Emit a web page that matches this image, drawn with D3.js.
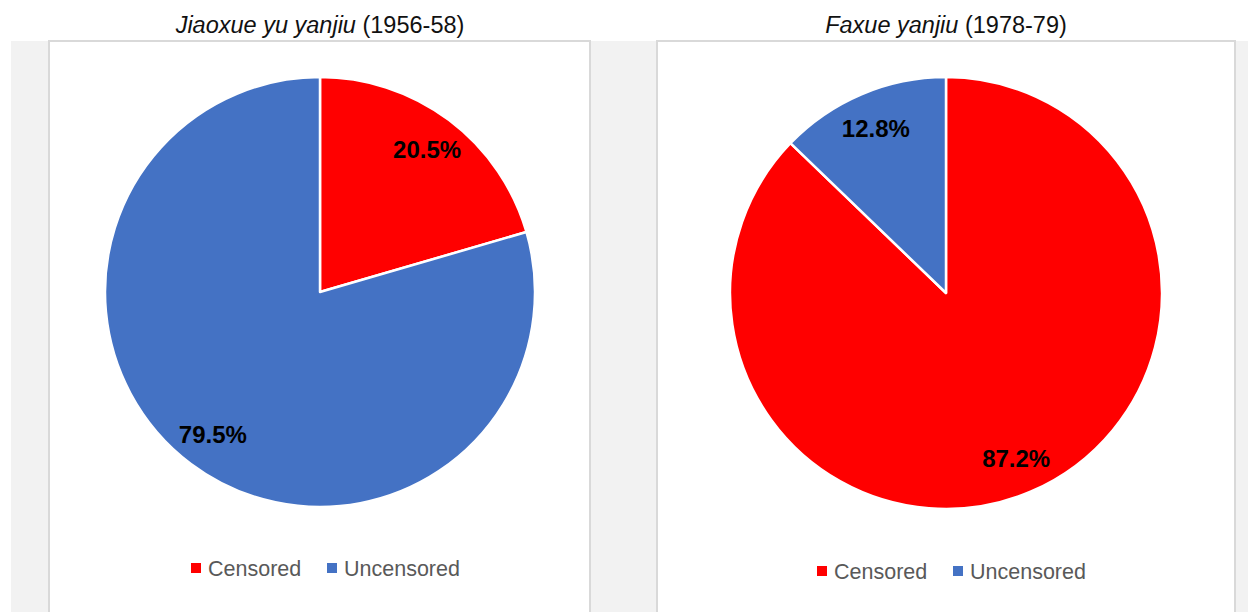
<!DOCTYPE html>
<meta charset="utf-8">
<style>
body { margin: 0; background: #fff; }
svg { display: block; font-family: "Liberation Sans", Arial, sans-serif; }
.legend text { fill: #595959; font-size: 21.5px; }
.title { font-size: 23.5px; fill: #111; }
.label { font-size: 24px; font-weight: bold; fill: #000; }
</style>
<svg width="1248" height="612"></svg>
<script src="https://d3js.org/d3.v7.min.js"></script>
<script>

// data
var categories = ["Censored", "Uncensored"];
var colors = ["#ff0000", "#4472c4"];
var titlesItalic = ["Jiaoxue yu yanjiu", "Faxue yanjiu"];
var titlesPlain = [" (1956-58)", " (1978-79)"];
var shares = [
  [20.5, 79.5],
  [87.2, 12.8]
];

var svg = d3.select("svg");

// grey backdrop + panels
svg.append("rect").attr("x", 11).attr("y", 41).attr("width", 1237).attr("height", 571).attr("fill", "#f2f2f2");

var panels = [
  {x: 49, w: 541, cx: 320, cy: 292, r: 215, tx: 320, legendX: 191, legendY: 568, gap: 136},
  {x: 657, w: 578, cx: 946, cy: 293, r: 216, tx: 946, legendX: 817, legendY: 571, gap: 136}
];

var pie = d3.pie().sort(null).value(function(d) { return d; });

panels.forEach(function(p, i) {
  svg.append("rect").attr("x", p.x).attr("y", 41).attr("width", p.w).attr("height", 580)
    .attr("fill", "#fff").attr("stroke", "#d9d9d9").attr("stroke-width", 2);

  var t = svg.append("text").attr("class", "title")
    .attr("x", p.tx).attr("y", 33).attr("text-anchor", "middle");
  t.append("tspan").attr("font-style", "italic").text(titlesItalic[i]);
  t.append("tspan").text(titlesPlain[i]);

  var g = svg.append("g").attr("transform", "translate(" + p.cx + "," + p.cy + ")");
  var arc = d3.arc().innerRadius(0).outerRadius(p.r);
  var labelArc = d3.arc().innerRadius(p.r * 0.83).outerRadius(p.r * 0.83);
  var arcs = pie(shares[i]);

  g.selectAll("path").data(arcs).enter().append("path")
    .attr("d", arc)
    .attr("fill", function(d, j) { return colors[j]; })
    .attr("stroke", "#fff").attr("stroke-width", 2.5).attr("stroke-linejoin", "round");

  g.selectAll("text").data(arcs).enter().append("text")
    .attr("class", "label")
    .attr("transform", function(d) { return "translate(" + labelArc.centroid(d) + ")"; })
    .attr("text-anchor", "middle")
    .attr("dy", "0.36em")
    .text(function(d) { return d.data.toFixed(1) + "%"; });

  // legend
  var lg = svg.append("g").attr("class", "legend")
    .attr("transform", "translate(" + p.legendX + "," + p.legendY + ")");
  var item = lg.selectAll("g").data(categories).enter().append("g")
    .attr("transform", function(d, j) { return "translate(" + (j * p.gap) + ",0)"; });
  item.append("rect").attr("x", 0).attr("y", -5).attr("width", 10).attr("height", 10)
    .attr("fill", function(d, j) { return colors[j]; });
  item.append("text").attr("x", 17).attr("y", 0).attr("dy", "0.36em").text(function(d) { return d; });
});

</script>
